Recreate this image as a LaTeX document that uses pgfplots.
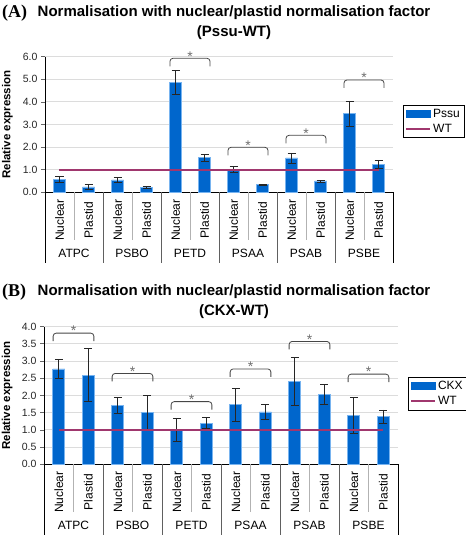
\documentclass[border=0pt]{standalone}
\usepackage{fontspec}
\setmainfont{Liberation Sans}
\newfontfamily\serifb{Liberation Serif}
\usepackage{pgfplots}
\usepackage{pgfplotstable}
\pgfplotsset{compat=1.18}

\definecolor{barblue}{RGB}{0,102,204}
\definecolor{baredge}{RGB}{120,180,240}
\definecolor{wtcol}{RGB}{160,55,110}
\definecolor{bracketcol}{RGB}{70,70,70}
\definecolor{starcol}{RGB}{110,110,110}
\definecolor{gridcol}{RGB}{220,220,220}

\pgfplotstableread{
x y e
0 0.58 0.13
1 0.24 0.09
2 0.55 0.10
3 0.21 0.04
4 4.87 0.54
5 1.53 0.16
6 1.02 0.13
7 0.34 0.02
8 1.52 0.22
9 0.50 0.04
10 3.48 0.56
11 1.24 0.18
}\dataA

\pgfplotstableread{
x y e
0 2.77 0.27
1 2.59 0.77
2 1.71 0.23
3 1.50 0.51
4 0.99 0.33
5 1.19 0.16
6 1.73 0.47
7 1.52 0.23
8 2.41 0.69
9 2.03 0.30
10 1.42 0.53
11 1.39 0.19
}\dataB

\newcommand{\sigbracket}[4]{% left, center, right, top
  \draw[bracketcol, line width=0.8pt, rounded corners=3pt]
    ([yshift=-8pt]axis cs:#1,#4) -- (axis cs:#1,#4) -- (axis cs:#3,#4) -- ([yshift=-8pt]axis cs:#3,#4);
  \node[text=starcol, font=\fontsize{14}{14}\selectfont, inner sep=0pt, anchor=south] at ([yshift=-3pt]axis cs:#2,#4) {*};
}

\newcommand{\separators}{%
  \foreach \xx in {0.5,2.5,4.5,6.5,8.5,10.5}{
    \edef\temp{\noexpand\draw[gray!60, line width=0.8pt] (axis cs:\xx,0) -- ([yshift=-48pt]axis cs:\xx,0);}\temp
  }
  \foreach \xx in {1.5,3.5,5.5,7.5,9.5}{
    \edef\temp{\noexpand\draw[gray!75!black, line width=0.8pt] (axis cs:\xx,0) -- ([yshift=-71pt]axis cs:\xx,0);}\temp
  }
  \draw[black, line width=0.8pt] (axis cs:-0.5,0) -- ([yshift=-71pt]axis cs:-0.5,0);
  \draw[black, line width=0.8pt] (axis cs:11.5,0) -- ([yshift=-71pt]axis cs:11.5,0);
  \node[font=\fontsize{12}{14}\selectfont] at ([yshift=-61pt]axis cs:0.5,0) {ATPC};
  \node[font=\fontsize{12}{14}\selectfont] at ([yshift=-61pt]axis cs:2.5,0) {PSBO};
  \node[font=\fontsize{12}{14}\selectfont] at ([yshift=-61pt]axis cs:4.5,0) {PETD};
  \node[font=\fontsize{12}{14}\selectfont] at ([yshift=-61pt]axis cs:6.5,0) {PSAA};
  \node[font=\fontsize{12}{14}\selectfont] at ([yshift=-61pt]axis cs:8.5,0) {PSAB};
  \node[font=\fontsize{12}{14}\selectfont] at ([yshift=-61pt]axis cs:10.5,0) {PSBE};
}

\pgfplotsset{
  panel/.style={
    scale only axis,
    xmin=-0.5, xmax=11.5, ymin=0,
    axis lines*=left,
    axis line style={black, line width=0.8pt},
    clip=false,
    xtick={0,...,11},
    xticklabels={Nuclear,Plastid,Nuclear,Plastid,Nuclear,Plastid,Nuclear,Plastid,Nuclear,Plastid,Nuclear,Plastid},
    x tick style={draw=none},
    xticklabel style={font=\fontsize{12}{14}\selectfont, yshift=-24pt, rotate=90, anchor=center},
    y tick style={gray!80!black, line width=0.7pt},
    tick align=outside,
    major tick length=4pt,
    yticklabel style={font=\fontsize{10.5}{12}\selectfont, text=black!85, /pgf/number format/.cd, fixed, fixed zerofill, precision=1},
    /pgf/number format/assume math mode=true,
    ymajorgrids,
    grid style={draw=gridcol, line width=0.8pt},
    ylabel={Relative expression},
    legend style={draw=black, line width=0.6pt, font=\fontsize{12}{14}\selectfont, inner sep=2pt, row sep=1pt, legend cell align=left},
  },
  barplot/.style={
    ybar, bar width=12pt, fill=barblue, draw=baredge, line width=0.6pt,
    legend image code/.code={\fill[barblue] (0pt,-3.5pt) rectangle (24pt,3.5pt);},
    error bars/.cd, y dir=both, y explicit,
    error bar style={black!85, line width=0.8pt},
    error mark options={rotate=90, black!85, mark size=4pt, line width=0.8pt},
  },
  wtplot/.style={
    draw=wtcol, color=wtcol, line width=1.8pt, no marks,
    legend image code/.code={\draw[wtcol, line width=1.8pt] (0pt,0pt) -- (24pt,0pt);},
  },
}

\begin{document}
\begin{tikzpicture}[x=1pt,y=1pt]
\useasboundingbox (0,0) rectangle (466,536);

% Titles A
\node[font=\bfseries\fontsize{15}{18}\selectfont] at (234,523) {Normalisation with nuclear/plastid normalisation factor};
\node[font=\bfseries\fontsize{15}{18}\selectfont] at (234,503) {(Pssu-WT)};
\node[font=\serifb\bfseries\fontsize{18}{20}\selectfont, anchor=west, inner sep=0pt] at (2,523) {(A)};

% Titles B
\node[font=\bfseries\fontsize{15}{18}\selectfont] at (234,244) {Normalisation with nuclear/plastid normalisation factor};
\node[font=\bfseries\fontsize{15}{18}\selectfont] at (234,224) {(CKX-WT)};
\node[font=\serifb\bfseries\fontsize{18}{20}\selectfont, anchor=west, inner sep=0pt] at (2,244) {(B)};

% Panel A
\begin{axis}[panel,
  at={(45pt,343.7pt)}, anchor=south west,
  width=348pt, height=135.6pt,
  ymax=6, ytick={0,1,...,6},
  every axis y label/.style={at={(axis description cs:-0.108,0.5)}, rotate=90, anchor=center, font=\bfseries\fontsize{11.5}{13}\selectfont},
  legend style={at={(axis description cs:1.029,0.644)}, anchor=north west},
]
\addplot[barplot] table[x=x, y=y, y error=e] {\dataA};
\addplot[wtplot] coordinates {(0,1) (11,1)};
\legend{Pssu,WT}
\sigbracket{3.81}{4.5}{5.19}{5.93}
\sigbracket{5.81}{6.5}{7.19}{1.99}
\sigbracket{7.81}{8.5}{9.19}{2.52}
\sigbracket{9.81}{10.5}{11.19}{4.97}
\separators
\end{axis}

% Panel B
\begin{axis}[panel,
  at={(44pt,71.7pt)}, anchor=south west,
  width=354pt, height=137.7pt,
  ymax=4, ytick={0,0.5,...,4},
  every axis y label/.style={at={(axis description cs:-0.104,0.5)}, rotate=90, anchor=center, font=\bfseries\fontsize{11.5}{13}\selectfont},
  legend style={at={(axis description cs:1.028,0.634)}, anchor=north west},
]
\addplot[barplot] table[x=x, y=y, y error=e] {\dataB};
\addplot[wtplot] coordinates {(0,1) (11,1)};
\legend{CKX,WT}
\sigbracket{-0.19}{0.5}{1.19}{3.81}
\sigbracket{1.81}{2.5}{3.19}{2.64}
\sigbracket{3.81}{4.5}{5.19}{1.82}
\sigbracket{5.81}{6.5}{7.19}{2.77}
\sigbracket{7.81}{8.5}{9.19}{3.57}
\sigbracket{9.81}{10.5}{11.19}{2.62}
\separators
\end{axis}
\end{tikzpicture}
\end{document}
